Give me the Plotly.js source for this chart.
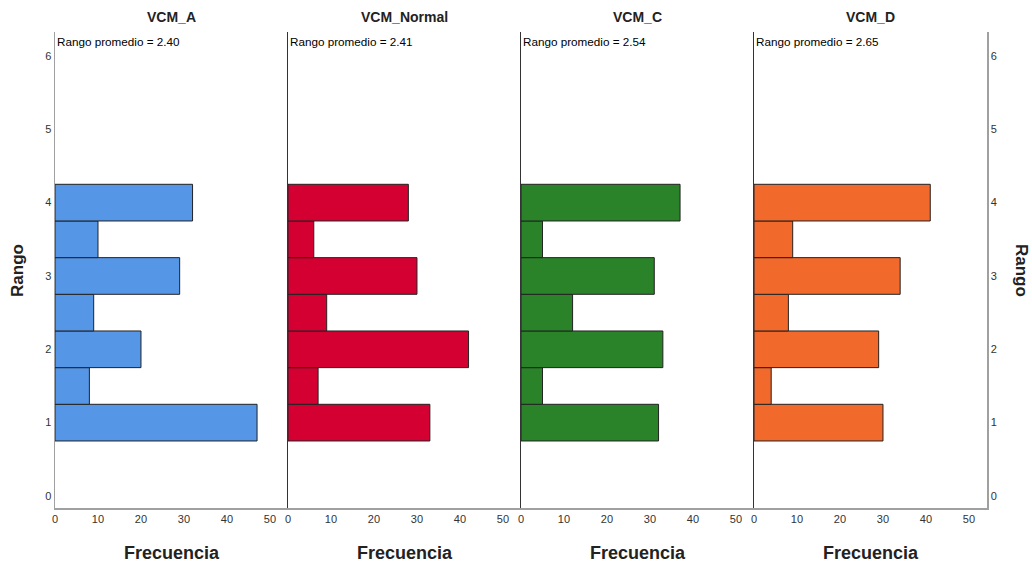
<!DOCTYPE html>
<html>
<head>
<meta charset="utf-8">
<script src="https://cdn.plot.ly/plotly-3.0.1.min.js"></script>
<style>html,body{margin:0;padding:0;background:#fff;}#chart{width:1032px;height:563px;}</style>
</head>
<body>
<div id="chart"></div>
<script>
const panels = ["VCM_A", "VCM_Normal", "VCM_C", "VCM_D"];
const rangoBins = [1, 1.5, 2, 2.5, 3, 3.5, 4];
const freqA = [47, 8, 20, 9, 29, 10, 32];
const freqNormal = [33, 7, 42, 9, 30, 6, 28];
const freqC = [32, 5, 33, 12, 31, 5, 37];
const freqD = [30, 4, 29, 8, 34, 9, 41];
const colors = ["#5596E6", "#D50032", "#2A8329", "#F2692C"];
const xTicks = [0, 10, 20, 30, 40, 50];
const yTicks = [0, 1, 2, 3, 4, 5, 6];

const series = [freqA, freqNormal, freqC, freqD];
const FONT = "Liberation Sans, Arial, sans-serif";
const traces = [];
const annotations = [];
const layout = {
  width: 1032, height: 563,
  margin: {l: 55, r: 45, t: 32, b: 55, pad: 0},
  paper_bgcolor: "#fff", plot_bgcolor: "#fff",
  showlegend: false, bargap: 0,
  font: {family: FONT, size: 11, color: "#333"},
  shapes: []
};
const xr = [0, 54.2];
const yr = [-0.164, 6.327];

series.forEach((vals, i) => {
  const n = i + 1;
  const xa = n === 1 ? "x" : "x" + n;
  const ya = n === 1 ? "y" : "y" + n;
  traces.push({
    type: "bar", orientation: "h",
    x: vals, y: rangoBins, width: 0.5,
    xaxis: xa, yaxis: ya,
    marker: {color: colors[i], line: {color: "#222", width: 1}},
    hoverinfo: "x+y"
  });
  layout["xaxis" + (n === 1 ? "" : n)] = {
    domain: [i * 0.25, (i + 1) * 0.25], anchor: ya, range: xr,
    tickvals: xTicks, ticks: "", showgrid: false, zeroline: false,
    showline: true, linecolor: "#a0a0a0", linewidth: 1.5, color: "#333",
    tickfont: {family: FONT, size: 11, color: "#333"}, fixedrange: true
  };
  layout["yaxis" + (n === 1 ? "" : n)] = {
    anchor: xa, range: yr, tickvals: yTicks, ticks: "",
    showticklabels: n === 1, showgrid: false, zeroline: false, color: "#333",
    showline: true, linecolor: n === 1 ? "#a0a0a0" : "#333", linewidth: n === 1 ? 1.5 : 1.2,
    tickfont: {family: FONT, size: 11, color: "#333"}, fixedrange: true
  };
  const total = vals.reduce((a, b) => a + b, 0);
  const mean = vals.reduce((s, v, k) => s + v * rangoBins[k], 0) / total;
  annotations.push({
    xref: "paper", yref: "paper", x: i * 0.25 + 0.0003, y: 0.979,
    xanchor: "left", yanchor: "middle", showarrow: false,
    text: "Rango promedio = " + mean.toFixed(2),
    font: {family: FONT, size: 11.7, color: "#000"}
  });
  annotations.push({
    xref: "paper", yref: "paper", x: i * 0.25 + 0.125, y: 1.0315,
    xanchor: "center", yanchor: "middle", showarrow: false,
    text: "<b>" + panels[i] + "</b>",
    font: {family: FONT, size: 14, color: "#222"}
  });
  annotations.push({
    xref: "paper", yref: "paper", x: i * 0.25 + 0.125, y: -0.0945,
    xanchor: "center", yanchor: "middle", showarrow: false,
    text: "<b>Frecuencia</b>",
    font: {family: FONT, size: 18, color: "#222"}
  });
});

// right-side Rango axis
layout.yaxis5 = {
  overlaying: "y4", anchor: "x4", side: "right", range: yr, tickvals: yTicks,
  ticks: "", showgrid: false, zeroline: false, showline: true, color: "#333",
  linecolor: "#a0a0a0", linewidth: 1.5,
  tickfont: {family: FONT, size: 11, color: "#333"}, fixedrange: true
};
traces.push({type: "scatter", mode: "markers", x: [null], y: [null], xaxis: "x4", yaxis: "y5", hoverinfo: "skip", showlegend: false});

annotations.push({
  xref: "paper", yref: "paper", x: -0.0408, y: 0.5, textangle: -90,
  xanchor: "center", yanchor: "middle", showarrow: false,
  text: "<b>Rango</b>", font: {family: FONT, size: 17, color: "#222"}
});
annotations.push({
  xref: "paper", yref: "paper", x: 1.0376, y: 0.5, textangle: 90,
  xanchor: "center", yanchor: "middle", showarrow: false,
  text: "<b>Rango</b>", font: {family: FONT, size: 17, color: "#222"}
});
layout.annotations = annotations;

Plotly.newPlot("chart", traces, layout, {displayModeBar: false, staticPlot: true});
</script>
</body>
</html>
